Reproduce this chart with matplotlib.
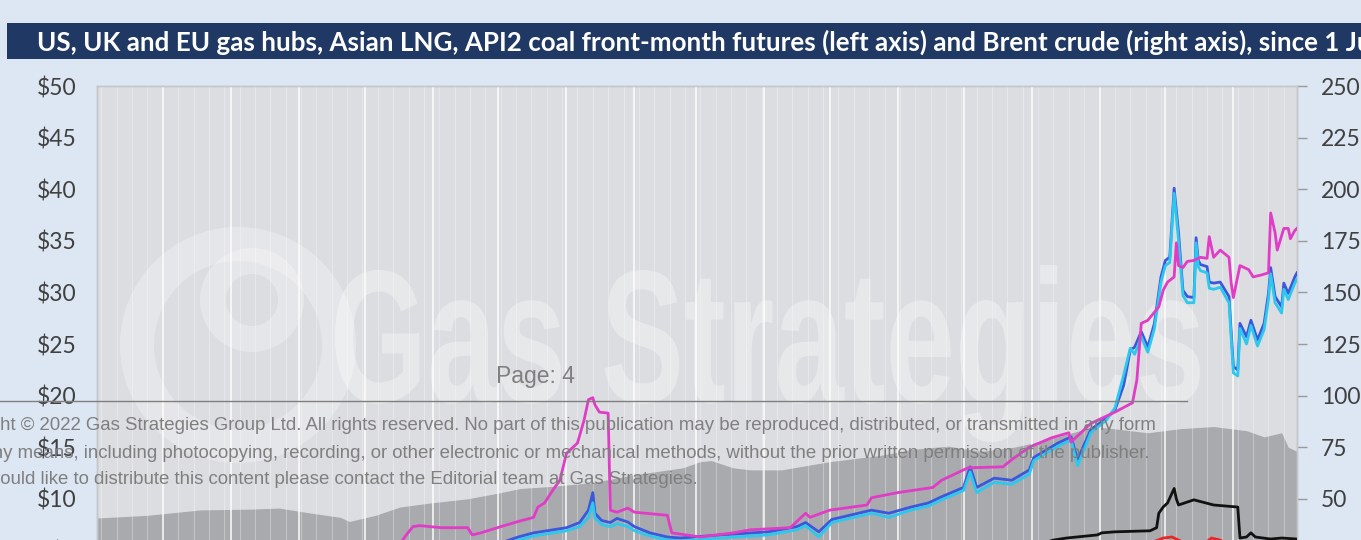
import numpy as np
import pandas as pd
import matplotlib
matplotlib.use('Agg')
import matplotlib.pyplot as plt
from matplotlib.patches import Rectangle, PathPatch, Wedge
from matplotlib.lines import Line2D
from matplotlib.textpath import TextPath
from matplotlib.font_manager import FontProperties
from matplotlib.transforms import Affine2D

# days since 1 June 2020, prices in $/MMBtu (left) and $/bbl (right)
jkm_days = [0, 20, 45, 70, 95, 115, 130, 138, 141, 144, 147, 157, 169, 171, 175, 184, 192, 199,
            201, 204, 208, 211, 214, 219, 222, 224, 226, 227, 229, 233, 234, 237, 242, 245, 260,
            262, 275, 290, 298, 316, 323, 325, 334, 351, 353, 365, 381, 385, 397, 413, 417, 425,
            435, 443, 444, 453, 464, 472, 474, 476, 479, 484, 486, 488, 491, 492, 493, 495, 497,
            500, 503, 506, 507, 509, 512, 516, 517, 518, 521, 525, 527, 531, 534, 535, 537, 538,
            541, 543, 544, 546, 547]
jkm = [2.1, 2.3, 2.6, 3.2, 3.9, 4.4, 5.0, 5.6, 6.5, 7.3, 7.4, 7.2, 7.2, 6.5, 6.7, 7.3, 7.8, 8.2,
       9.2, 9.6, 10.9, 11.8, 14.4, 15.4, 17.6, 19.6, 19.8, 19.1, 18.4, 18.3, 8.9, 8.7, 9.1, 8.7, 8.4,
       6.7, 6.3, 6.7, 7.0, 7.2, 8.6, 8.2, 8.9, 9.4, 10.1, 10.6, 11.1, 11.8, 13.0, 13.1, 13.8, 15.0,
       15.9, 16.4, 15.5, 17.3, 18.4, 19.3, 21.5, 27.0, 27.3, 28.6, 30.2, 31.0, 31.5, 34.8, 32.6, 32.4, 33.0,
       33.1, 33.4, 33.3, 35.4, 33.4, 34.1, 33.4, 30.9, 29.5, 32.6, 32.2, 31.5, 31.7, 31.9, 37.7, 35.8, 34.1,
       36.2, 36.2, 35.2, 36.0, 36.2]

hub_days = [0, 30, 60, 90, 120, 150, 170, 185, 192, 199, 214, 220, 224, 226, 227, 230, 234, 237,
            242, 245, 252, 260, 266, 284, 306, 319, 323, 329, 335, 349, 353, 361, 371, 379, 385, 395,
            398, 401, 409, 417, 425, 427, 438, 444, 447, 453, 460, 464, 468, 471, 473, 476, 479, 482,
            485, 487, 489, 491, 493, 495, 497, 500, 501, 502, 503, 506, 507, 509, 512, 516, 518, 520,
            521, 524, 526, 529, 532, 534, 535, 537, 540, 541, 543, 546, 547]
nbp = [1.7, 1.8, 2.2, 2.9, 3.8, 4.5, 5.3, 5.8, 6.3, 6.7, 7.2, 7.7, 8.9, 10.6, 8.6, 7.9, 7.7, 8.1,
       7.75, 7.3, 6.7, 6.3, 6.2, 6.5, 6.8, 7.3, 7.7, 6.8, 8.0, 8.7, 8.9, 8.6, 9.2, 9.6, 10.2, 11.1,
       13.1, 11.1, 12.0, 11.8, 12.8, 14.0, 15.4, 16.0, 13.8, 16.7, 17.8, 18.6, 21.0, 24.4, 24.7, 26.2, 24.7, 27.0,
       31.5, 33.1, 33.4, 40.1, 35.8, 30.2, 29.6, 29.5, 35.3, 33.1, 32.7, 32.5, 31.0, 30.9, 31.0, 29.6, 22.8, 22.5,
       27.0, 25.7, 27.3, 25.4, 27.0, 29.9, 32.4, 29.6, 28.6, 30.9, 29.9, 31.5, 31.9]
ttf = [1.6, 1.7, 2.0, 2.7, 3.6, 4.3, 5.0, 5.5, 6.0, 6.4, 6.9, 7.3, 8.2, 9.6, 8.1, 7.5, 7.3, 7.6,
       7.3, 6.9, 6.4, 6.0, 5.9, 6.2, 6.5, 7.0, 7.4, 6.3, 7.7, 8.4, 8.6, 8.2, 8.9, 9.3, 9.9, 10.8,
       12.6, 10.6, 11.6, 11.4, 12.4, 13.7, 15.1, 15.7, 13.2, 16.4, 17.6, 18.8, 22.0, 24.6, 24.0, 25.7, 24.2, 26.5,
       31.0, 32.6, 32.9, 39.6, 35.0, 29.7, 29.0, 29.0, 34.8, 32.5, 32.1, 31.9, 30.4, 30.3, 30.5, 29.0, 22.2, 21.9,
       26.5, 25.0, 26.8, 24.8, 26.4, 29.3, 31.8, 29.0, 28.0, 30.3, 29.3, 30.9, 31.3]

coal_days = [0, 60, 120, 180, 240, 300, 360, 400, 425, 436, 442, 456, 458, 464, 480, 483, 484, 486,
             488, 491, 492, 493, 500, 509, 520, 521, 524, 526, 528, 535, 540, 547]
coal = [1.9, 2.0, 2.3, 2.7, 2.9, 3.0, 3.6, 4.5, 5.3, 6.0, 6.2, 6.5, 6.7, 6.8, 6.9, 7.2, 8.6, 9.2,
        9.6, 11.0, 10.0, 9.4, 9.9, 9.4, 9.2, 6.2, 6.3, 6.7, 6.3, 6.1, 6.2, 6.1]

hh_days = [0, 40, 80, 120, 160, 200, 240, 280, 320, 360, 400, 430, 460, 480, 486, 490, 494, 500,
           505, 508, 512, 518, 530, 540, 547]
hh = [1.8, 1.7, 2.1, 2.6, 2.9, 2.6, 2.8, 2.6, 2.7, 3.1, 3.8, 4.2, 5.0, 5.7, 6.2, 6.3, 5.9, 5.6,
      5.7, 6.2, 6.0, 5.2, 5.0, 5.3, 4.6]

brent_days = [0, 23, 47, 70, 83, 98, 111, 115, 127, 138, 152, 169, 184, 193, 207, 225, 244, 267,
              275, 280, 290, 298, 312, 334, 357, 372, 388, 403, 418, 433, 441, 448, 456, 463, 479,
              494, 509, 524, 532, 540, 543, 547]
brent = [40.7, 42, 44.6, 45, 45.5, 43, 41, 39, 42, 46, 48, 50, 53, 55, 56, 57.7, 61.5, 65,
         68, 68.5, 65, 64, 64, 68, 71, 74, 75.5, 73, 75, 78.5, 81, 83, 84.8, 84, 82,
         84, 85, 83, 80, 82, 75, 73]

left_ticks = [0, 5, 10, 15, 20, 25, 30, 35, 40, 45, 50]
right_ticks = [0, 25, 50, 75, 100, 125, 150, 175, 200, 225, 250]

title = ("US, UK and EU gas hubs, Asian LNG, API2 coal front-month futures (left axis) "
         "and Brent crude (right axis), since 1 June 2020")
notice = ["Copyright \u00a9 2022 Gas Strategies Group Ltd. All rights reserved. No part of this "
          "publication may be reproduced, distributed, or transmitted in any form",
          "or by any means, including photocopying, recording, or other electronic or mechanical "
          "methods, without the prior written permission of the publisher.",
          "If you would like to distribute this content please contact the Editorial team at Gas Strategies."]

W, H = 1361, 540
fig = plt.figure(figsize=(W / 100, H / 100), dpi=100)
fig.patch.set_facecolor('#dde6f3')


def box(x0, y0, x1, y1):
    # pixel box (top-left origin) -> figure fraction rect
    return [x0 / W, 1 - y1 / H, (x1 - x0) / W, (y1 - y0) / H]


ax = fig.add_axes(box(97, 86, 1297, 602))
axr = ax.twinx()
ax.set_zorder(axr.get_zorder() + 1)
ax.patch.set_visible(False)
axr.patch.set_visible(True)
axr.patch.set_facecolor('#dcdde1')

# Brent as grey area on the right axis
axr.fill_between(brent_days, brent, 0, color='#a9aaad', lw=0)
axr.set_ylim(0, 250)
axr.set_yticks(right_ticks)
axr.set_yticklabels([str(t) for t in right_ticks])

# gas and coal lines on the left axis
ax.plot(hub_days, nbp, color='#3b58dd', lw=2.0, zorder=3)
ax.plot(hub_days, ttf, color='#2cc8ee', lw=2.0, zorder=3.1)
ax.plot(jkm_days, jkm, color='#e03cc6', lw=2.0, zorder=3.2)
ax.plot(coal_days, coal, color='#111111', lw=2.0, zorder=3.3)
ax.plot(hh_days, hh, color='#e82828', lw=2.0, zorder=3.4)

ax.set_xlim(0, 547)
ax.set_ylim(0, 50)
ax.set_yticks(left_ticks)
ax.set_yticklabels(['$%d' % t for t in left_ticks])

start = pd.Timestamp('2020-06-01')
months = (pd.date_range('2020-07-01', '2021-11-01', freq='MS') - start).days
weeks = (pd.date_range('2020-06-03', '2021-11-30', freq='7D') - start).days
ax.set_xticks(months)
ax.set_xticks(weeks, minor=True)
ax.grid(axis='x', which='major', color='white', lw=1.4, alpha=0.75, zorder=1)
ax.grid(axis='x', which='minor', color='white', lw=0.8, alpha=0.3, zorder=1)
ax.tick_params(axis='x', which='both', length=0, labelbottom=False)
ax.set_axisbelow(True)

ax.tick_params(axis='y', length=0, pad=15, labelcolor='#404040')
axr.tick_params(axis='y', length=7, width=1, color='#9a9a9a', pad=10, labelcolor='#404040')
for lab in ax.get_yticklabels() + axr.get_yticklabels():
    lab.set_fontfamily('Lato')
    lab.set_fontsize(16.5)
for a in (ax, axr):
    for s in a.spines.values():
        s.set_color('#c4c6cc')
        s.set_linewidth(1)

# watermark
wm = TextPath((0, 0), 'Gas Strategies', size=100,
              prop=FontProperties(family='Liberation Sans', weight='bold'))
cap = TextPath((0, 0), 'S', size=100,
               prop=FontProperties(family='Liberation Sans', weight='bold')).get_extents().ymax
ext = wm.get_extents()
sx = (1200 - 335) / ext.width
sy = (402 - 270) / cap
tr = Affine2D().translate(-ext.x0, 0).scale(sx, sy).translate(335, H - 402)
ax.add_patch(PathPatch(wm, transform=tr, facecolor='white', edgecolor='none', alpha=0.33, zorder=2))
ax.add_patch(Wedge((238, H - 345), 118, 0, 360, width=34, transform=Affine2D(),
                   facecolor='white', edgecolor='none', alpha=0.28, zorder=2))
ax.add_patch(Wedge((252, H - 300), 52, 0, 360, width=26, transform=Affine2D(),
                   facecolor='white', edgecolor='none', alpha=0.28, zorder=2))

# title bar
fig.add_artist(Rectangle((7 / W, 1 - 59 / H), 1, 36 / H, transform=fig.transFigure,
                         facecolor='#1f3864', edgecolor='none'))
fig.text(37 / W, 1 - 42 / H, title, color='white', fontsize=18.7, fontweight='bold',
         family='Lato', va='center', ha='left')

# page overlay
fig.add_artist(Line2D([0, 1187 / W], [1 - 401 / H, 1 - 401 / H], transform=fig.transFigure,
                      color='#7f7f7f', lw=1.0, zorder=10))
fig.text(535 / W, 1 - 376 / H, 'Page: 4', color='#7f7f7f', fontsize=16.5, family='Liberation Sans',
         ha='center', va='center', zorder=10)
for i, line in enumerate(notice):
    fig.text(-64 / W, 1 - (426 + 27 * i) / H, line, color='#7f7f7f', fontsize=13.4,
             family='Liberation Sans', ha='left', va='center', zorder=10)

fig.savefig('out.png', dpi=100, facecolor=fig.get_facecolor())
